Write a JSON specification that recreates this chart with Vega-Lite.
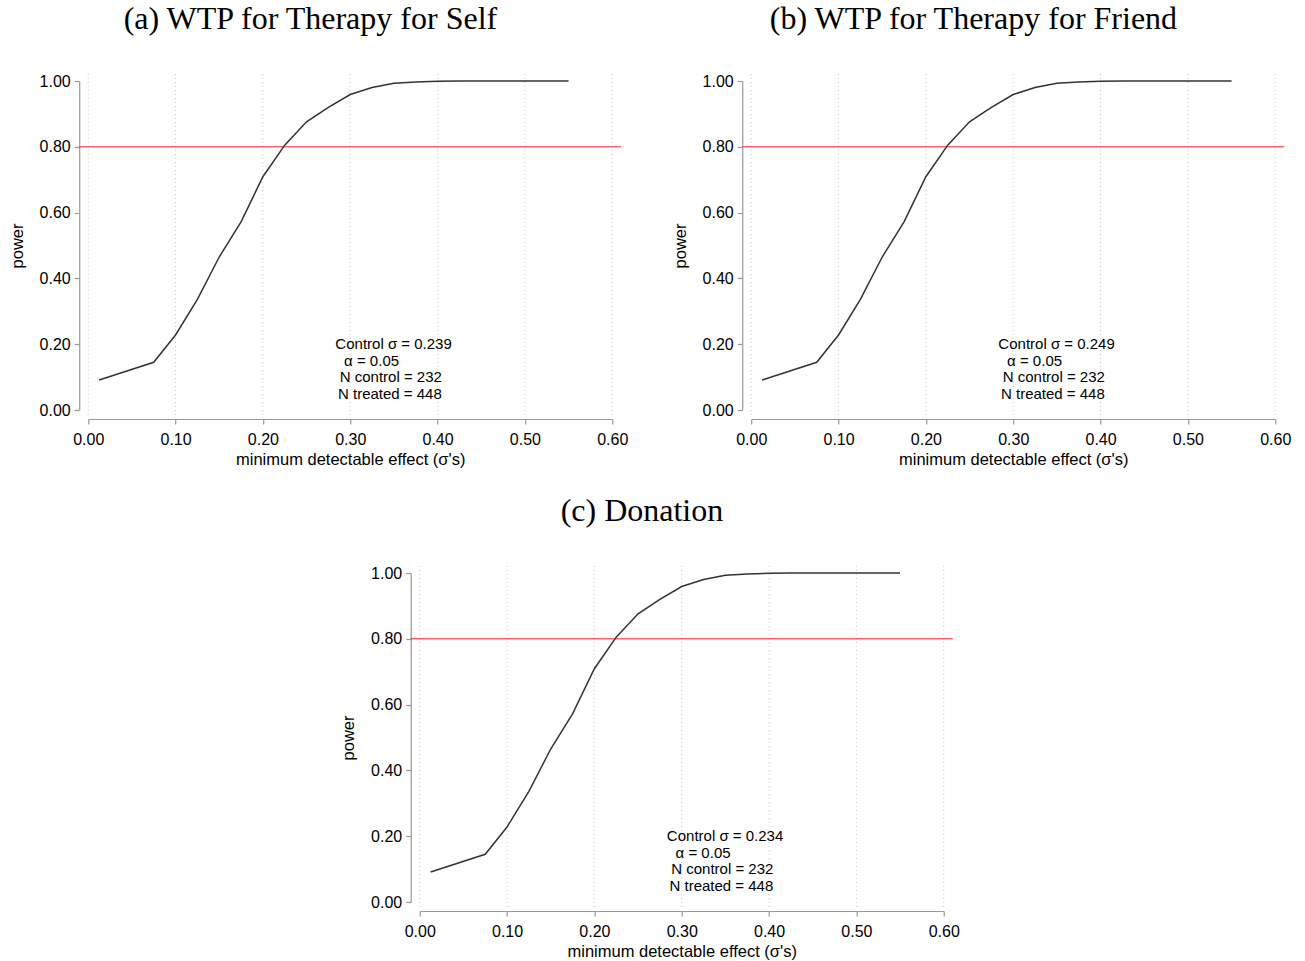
{
  "$schema": "https://vega.github.io/schema/vega-lite/v6.json",
  "background": "white",
  "padding": {"left": 9, "top": 3, "right": 5, "bottom": 5},
  "datasets": {
    "curve": [
      {"x": 0.0125, "y": 0.091},
      {"x": 0.075, "y": 0.145},
      {"x": 0.1, "y": 0.228},
      {"x": 0.125, "y": 0.336},
      {"x": 0.15, "y": 0.465},
      {"x": 0.175, "y": 0.572},
      {"x": 0.2, "y": 0.709},
      {"x": 0.225, "y": 0.805},
      {"x": 0.25, "y": 0.876},
      {"x": 0.275, "y": 0.920},
      {"x": 0.3, "y": 0.959},
      {"x": 0.325, "y": 0.980},
      {"x": 0.35, "y": 0.993},
      {"x": 0.375, "y": 0.997},
      {"x": 0.4, "y": 0.999},
      {"x": 0.425, "y": 1.0},
      {"x": 0.45, "y": 1.0},
      {"x": 0.475, "y": 1.0},
      {"x": 0.5, "y": 1.0},
      {"x": 0.525, "y": 1.0},
      {"x": 0.55, "y": 1.0}
    ],
    "grid": [
      {"x": 0.0, "y": -0.015, "yEnd": 1.025},
      {"x": 0.1, "y": -0.015, "yEnd": 1.025},
      {"x": 0.2, "y": -0.015, "yEnd": 1.025},
      {"x": 0.3, "y": -0.015, "yEnd": 1.025},
      {"x": 0.4, "y": -0.015, "yEnd": 1.025},
      {"x": 0.5, "y": -0.015, "yEnd": 1.025},
      {"x": 0.6, "y": -0.015, "yEnd": 1.025}
    ],
    "ref": [
      {"x": -0.0103, "xEnd": 0.6103, "y": 0.8}
    ],
    "noteA": [
      {"label": "Control σ = 0.239", "x": 0.283, "y": 0.20},
      {"label": "α = 0.05", "x": 0.293, "y": 0.15},
      {"label": "N control = 232", "x": 0.288, "y": 0.10},
      {"label": "N treated = 448", "x": 0.286, "y": 0.05}
    ],
    "noteB": [
      {"label": "Control σ = 0.249", "x": 0.283, "y": 0.20},
      {"label": "α = 0.05", "x": 0.293, "y": 0.15},
      {"label": "N control = 232", "x": 0.288, "y": 0.10},
      {"label": "N treated = 448", "x": 0.286, "y": 0.05}
    ],
    "noteC": [
      {"label": "Control σ = 0.234", "x": 0.283, "y": 0.20},
      {"label": "α = 0.05", "x": 0.293, "y": 0.15},
      {"label": "N control = 232", "x": 0.288, "y": 0.10},
      {"label": "N treated = 448", "x": 0.286, "y": 0.05}
    ]
  },
  "vconcat": [
    {
      "hconcat": [
        {
          "width": 524, "height": 329,
          "title": {"text": "(a) WTP for Therapy for Self", "dx": -8},
          "encoding": {
            "x": {"field": "x", "type": "quantitative", "title": "minimum detectable effect (σ's)", "scale": {"domain": [0, 0.6], "nice": false, "zero": false}, "axis": {"values": [0, 0.1, 0.2, 0.3, 0.4, 0.5, 0.6]}},
            "y": {"field": "y", "type": "quantitative", "title": "power", "scale": {"domain": [0, 1], "nice": false, "zero": false}, "axis": {"values": [0, 0.2, 0.4, 0.6, 0.8, 1.0]}}
          },
          "layer": [
            {"data": {"name": "grid"}, "mark": {"type": "rule", "color": "#c8c8c8", "strokeWidth": 1, "strokeDash": [1, 3]}, "encoding": {"y2": {"field": "yEnd"}}},
            {"data": {"name": "ref"}, "mark": {"type": "rule", "color": "#ff2020", "strokeWidth": 1}, "encoding": {"x2": {"field": "xEnd"}}},
            {"data": {"name": "curve"}, "mark": {"type": "line", "color": "#333333", "strokeWidth": 1.5}, "encoding": {}},
            {"data": {"name": "noteA"}, "mark": {"type": "text", "align": "left", "baseline": "middle", "font": "Liberation Sans", "fontSize": 15, "color": "black"}, "encoding": {"text": {"field": "label"}}}
          ]
        },
        {
          "width": 524, "height": 329,
          "title": {"text": "(b) WTP for Therapy for Friend", "dx": -8},
          "encoding": {
            "x": {"field": "x", "type": "quantitative", "title": "minimum detectable effect (σ's)", "scale": {"domain": [0, 0.6], "nice": false, "zero": false}, "axis": {"values": [0, 0.1, 0.2, 0.3, 0.4, 0.5, 0.6]}},
            "y": {"field": "y", "type": "quantitative", "title": "power", "scale": {"domain": [0, 1], "nice": false, "zero": false}, "axis": {"values": [0, 0.2, 0.4, 0.6, 0.8, 1.0]}}
          },
          "layer": [
            {"data": {"name": "grid"}, "mark": {"type": "rule", "color": "#c8c8c8", "strokeWidth": 1, "strokeDash": [1, 3]}, "encoding": {"y2": {"field": "yEnd"}}},
            {"data": {"name": "ref"}, "mark": {"type": "rule", "color": "#ff2020", "strokeWidth": 1}, "encoding": {"x2": {"field": "xEnd"}}},
            {"data": {"name": "curve"}, "mark": {"type": "line", "color": "#333333", "strokeWidth": 1.5}, "encoding": {}},
            {"data": {"name": "noteB"}, "mark": {"type": "text", "align": "left", "baseline": "middle", "font": "Liberation Sans", "fontSize": 15, "color": "black"}, "encoding": {"text": {"field": "label"}}}
          ]
        }
      ],
      "spacing": 139,
      "bounds": "flush"
    },
    {
      "width": 524, "height": 329,
      "title": {"text": "(c) Donation", "dx": -8},
      "encoding": {
        "x": {"field": "x", "type": "quantitative", "title": "minimum detectable effect (σ's)", "scale": {"domain": [0, 0.6], "nice": false, "zero": false}, "axis": {"values": [0, 0.1, 0.2, 0.3, 0.4, 0.5, 0.6]}},
        "y": {"field": "y", "type": "quantitative", "title": "power", "scale": {"domain": [0, 1], "nice": false, "zero": false}, "axis": {"values": [0, 0.2, 0.4, 0.6, 0.8, 1.0]}}
      },
      "layer": [
        {"data": {"name": "grid"}, "mark": {"type": "rule", "color": "#c8c8c8", "strokeWidth": 1, "strokeDash": [1, 3]}, "encoding": {"y2": {"field": "yEnd"}}},
        {"data": {"name": "ref"}, "mark": {"type": "rule", "color": "#ff2020", "strokeWidth": 1}, "encoding": {"x2": {"field": "xEnd"}}},
        {"data": {"name": "curve"}, "mark": {"type": "line", "color": "#333333", "strokeWidth": 1.5}, "encoding": {}},
        {"data": {"name": "noteC"}, "mark": {"type": "text", "align": "left", "baseline": "middle", "font": "Liberation Sans", "fontSize": 15, "color": "black"}, "encoding": {"text": {"field": "label"}}}
      ]
    }
  ],
  "spacing": 27,
  "center": true,
  "config": {
    "view": {"stroke": null},
    "title": {"font": "Liberation Serif", "fontSize": 32, "fontWeight": "normal", "color": "black", "anchor": "middle", "frame": "bounds", "offset": 36},
    "axis": {
      "grid": false,
      "domainColor": "#999999",
      "domainWidth": 1.2,
      "tickColor": "#999999",
      "tickWidth": 1.2,
      "tickSize": 5,
      "offset": 9,
      "labelFont": "Liberation Sans",
      "labelFontSize": 16,
      "labelColor": "black",
      "labelPadding": 4,
      "titleFont": "Liberation Sans",
      "titleFontSize": 16.5,
      "titleFontWeight": "normal",
      "titleColor": "black",
      "format": ".2f",
      "labelFlush": false
    },
    "axisX": {"titlePadding": 4, "labelPadding": 7},
    "axisY": {"titlePadding": 14}
  }
}
